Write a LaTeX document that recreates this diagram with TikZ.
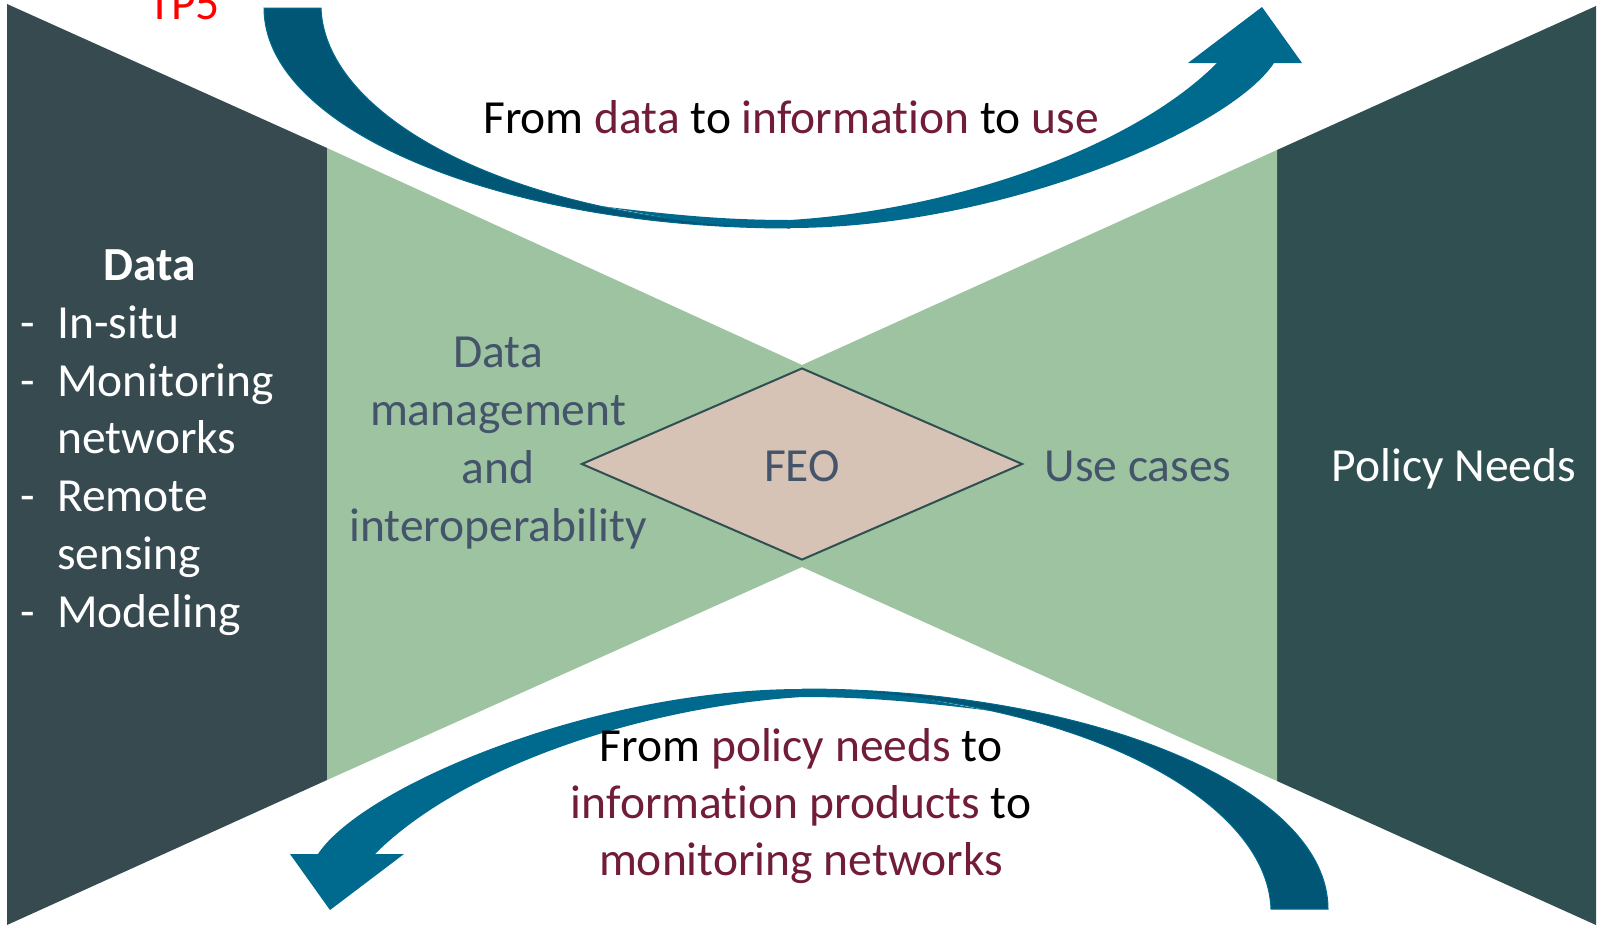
\documentclass[tikz,border=0pt]{standalone}
\usepackage{fontspec}
\setmainfont[Ligatures={NoCommon}]{Carlito}
\usetikzlibrary{shapes.geometric}
\definecolor{darkL}{RGB}{54,74,80}
\definecolor{darkR}{RGB}{47,79,81}
\definecolor{bowgreen}{RGB}{157,195,160}
\definecolor{feofill}{RGB}{215,195,181}
\definecolor{feoline}{RGB}{47,79,81}
\definecolor{slate}{RGB}{68,84,106}
\definecolor{maroon}{RGB}{112,28,58}
\definecolor{arrlight}{RGB}{0,106,142}
\definecolor{arrdark}{RGB}{0,86,116}
\tikzset{
  txt/.style={inner sep=0pt, anchor=base, font=\fontsize{47.5}{57.5}\selectfont},
  txtw/.style={txt, anchor=base west},
  wtxt/.style={txt, text=white},
  wtxtw/.style={txtw, text=white},
  stxt/.style={txt, text=slate},
}
\newcommand{\hl}[1]{\textcolor{maroon}{#1}}
\begin{document}
\begin{tikzpicture}[x=1pt,y=-1pt]
\useasboundingbox (0,0) rectangle (1601,929);
\fill[white] (0,0) rectangle (1601,929);
% side panels and bowtie
\fill[darkL] (7,4) -- (327,148) -- (327,780) -- (7,925) -- cycle;
\fill[darkR] (1596,6) -- (1277,150) -- (1277,781) -- (1596,925) -- cycle;
\fill[bowgreen] (327,148) -- (802,365) -- (1277,150) -- (1277,781) -- (802,567) -- (327,780) -- cycle;
% diamond
\node[draw=feoline, line width=2pt, fill=feofill, diamond, minimum width=441pt, minimum height=192pt, inner sep=0pt] (feo) at (802,464) {};
\node[stxt] (feotxt) at (802,481) {FEO};
% arrows
\def\curvedarrow{%
  \fill[arrlight] (600,206) .. controls (680,216) and (730,220) .. (790,220)
     .. controls (950,210) and (1130,150) .. (1217,63) -- (1188,63) -- (1262,7)
     -- (1302,63) -- (1274,63) .. controls (1230,130) and (1000,228) .. (790,228)
     .. controls (700,228) and (650,214) .. (600,206) -- cycle;
  \filldraw[fill=arrdark, draw=arrlight, line width=1pt] (264,8) .. controls (264,129) and (500,228) .. (790,228)
     .. controls (520,222) and (325,120) .. (321,8) -- cycle;}
\begin{scope}
\curvedarrow
\end{scope}
\begin{scope}[rotate around={180:(796,458.5)}]
\curvedarrow
\end{scope}
% top label
\node[txt, text=red] (tp) at (184,19) {TP5};
\node[txt] (top) at (791,133) {From \hl{data} to \hl{information} to \hl{use}};
% bottom label
\node[txt] (b1) at (801,761) {From \hl{policy needs} to};
\node[txt] (b2) at (801,818) {\hl{information products} to};
\node[txt] (b3) at (801,875) {\hl{monitoring networks}};
% left list
\node[wtxt, font=\fontsize{47.5}{57.5}\selectfont\bfseries] (dh) at (150,280) {Data};
\node[wtxtw] (d1) at (20,338) {-};
\node[wtxtw] (l1) at (57,338) {In-situ};
\node[wtxtw] (d2) at (20,396) {-};
\node[wtxtw] (l2) at (57,396) {Monitoring};
\node[wtxtw] (l2b) at (57,453.5) {networks};
\node[wtxtw] (d3) at (20,511) {-};
\node[wtxtw] (l3) at (57,511) {Remote};
\node[wtxtw] (l3b) at (57,569) {sensing};
\node[wtxtw] (d4) at (20,627) {-};
\node[wtxtw] (l4) at (57,627) {Modeling};
% centre left
\node[stxt] (m1) at (498,367.5) {Data};
\node[stxt] (m2) at (498,425.5) {management};
\node[stxt] (m3) at (498,483) {and};
\node[stxt] (m4) at (498,541) {interoperability};
% right texts
\node[stxt] (uc) at (1138,481) {Use cases};
\node[wtxt] (pn) at (1454,481) {Policy Needs};
\end{tikzpicture}
\end{document}
